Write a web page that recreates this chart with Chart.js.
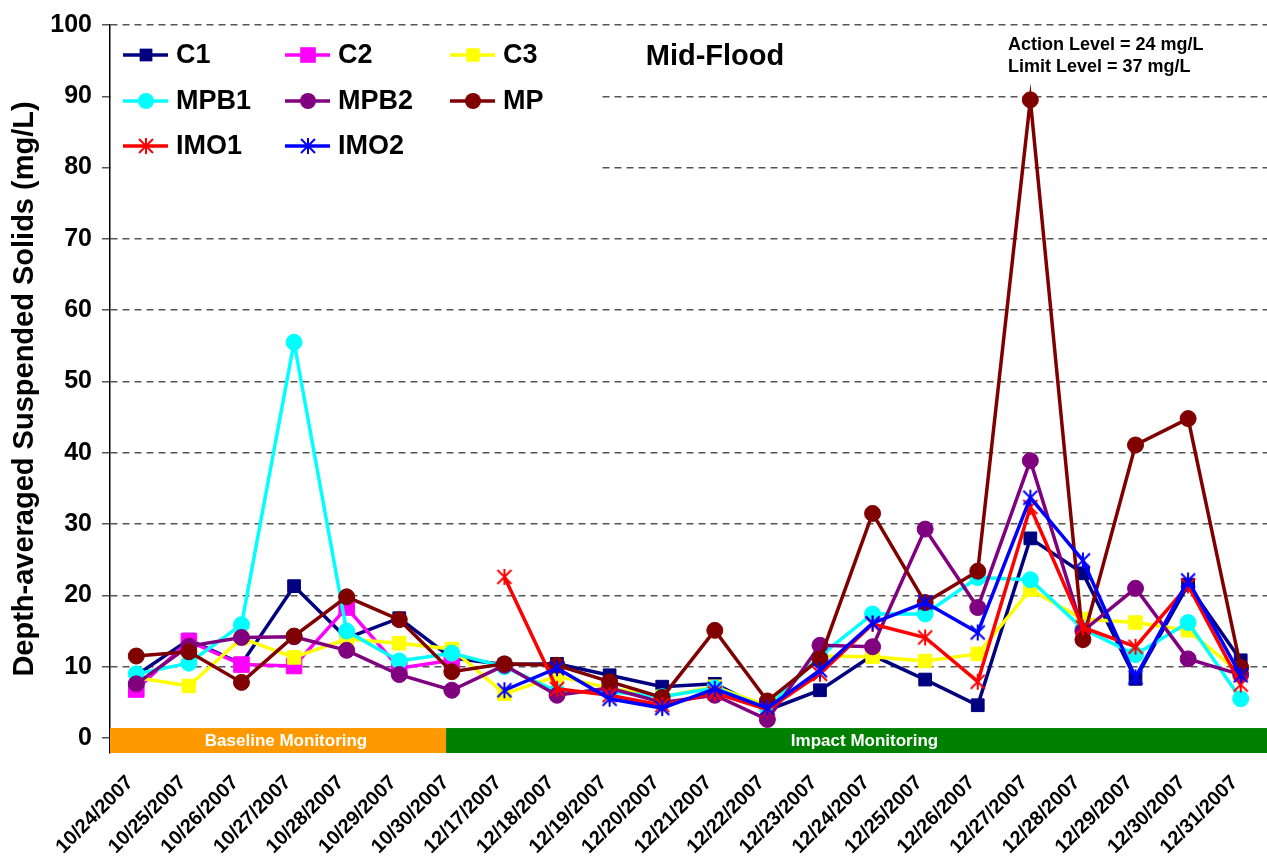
<!DOCTYPE html>
<html>
<head>
<meta charset="utf-8">
<script src="https://cdn.jsdelivr.net/npm/chart.js@4.4.1/dist/chart.umd.min.js"></script>
<style>
  html, body { margin: 0; padding: 0; background: #fff; }
  #wrap { width: 1267px; height: 859px; }
</style>
</head>
<body>
<div id="wrap"><canvas id="chart"></canvas></div>
<script>
const dates = [
  '10/24/2007', '10/25/2007', '10/26/2007', '10/27/2007', '10/28/2007', '10/29/2007', '10/30/2007',
  '12/17/2007', '12/18/2007', '12/19/2007', '12/20/2007', '12/21/2007', '12/22/2007', '12/23/2007',
  '12/24/2007', '12/25/2007', '12/26/2007', '12/27/2007', '12/28/2007', '12/29/2007', '12/30/2007',
  '12/31/2007',
];
const yTicks = [0, 10, 20, 30, 40, 50, 60, 70, 80, 90, 100];

const c1 = [8.8, 13.8, 10.4, 21.3, 14.0, 16.8, 11.2, 10.3, 10.4, 8.8, 7.2, 7.6, 3.9, 6.7, 11.6, 8.2, 4.6, 28.0, 23.1, 8.3, 21.5, 10.9];
const c2 = [6.8, 13.6, 10.3, 10.1, 18.3, 9.8, 10.9, null, null, null, null, null, null, null, null, null, null, null, null, null, null, null];
const c3 = [8.5, 7.3, 14.0, 11.3, 13.9, 13.3, 12.5, 6.2, 8.7, 7.0, 5.8, 7.2, 4.5, 11.5, 11.4, 10.8, 11.8, 20.8, 16.7, 16.2, 15.1, 9.0];
const mpb1 = [9.0, 10.5, 15.9, 55.5, 15.0, 10.8, 11.9, 10.0, 6.5, 6.5, 5.8, 7.0, 4.2, 11.5, 17.4, 17.4, 22.5, 22.2, 15.3, 11.7, 16.2, 5.5];
const mpb2 = [7.6, 12.9, 14.1, 14.2, 12.3, 8.9, 6.7, 10.2, 6.0, 7.0, 5.0, 6.0, 2.6, 13.0, 12.8, 29.3, 18.3, 38.9, 15.0, 21.0, 11.1, 8.9];
const mp = [11.5, 12.1, 7.8, 14.3, 19.8, 16.6, 9.3, 10.4, 10.2, 7.9, 5.7, 15.1, 5.2, 11.1, 31.5, 19.0, 23.4, 89.5, 13.8, 41.1, 44.8, 9.9];
const imo1 = [null, null, null, null, null, null, null, 22.6, 6.9, 6.0, 4.6, 6.3, 4.0, 9.0, 16.0, 14.1, 7.9, 32.4, 15.5, 12.8, 21.4, 7.5];
const imo2 = [null, null, null, null, null, null, null, 6.7, 9.8, 5.5, 4.2, 6.9, 4.2, 9.5, 16.1, 19.0, 14.8, 33.7, 24.9, 8.5, 22.1, 8.8];

// monitoring periods along the bottom (category index range)
const periods = [
  { label: 'Baseline Monitoring', from: -0.5, to: 5.89, color: '#FF9900' },
  { label: 'Impact Monitoring', from: 5.89, to: 21.5, color: '#008000' },
];

const FONT = "'Liberation Sans', Arial, sans-serif";
Chart.defaults.font.family = FONT;
Chart.defaults.font.weight = 'bold';
Chart.defaults.color = '#000';

// Excel-style asterisk marker: an X with a vertical bar
function asterisk(color) {
  const size = 18;
  const cv = document.createElement('canvas');
  cv.width = size;
  cv.height = size;
  const c = cv.getContext('2d');
  c.strokeStyle = color;
  c.lineWidth = 2;
  c.lineCap = 'butt';
  c.beginPath();
  c.moveTo(size / 2, 1); c.lineTo(size / 2, size - 1);
  c.moveTo(2, 2); c.lineTo(size - 2, size - 2);
  c.moveTo(size - 2, 2); c.lineTo(2, size - 2);
  c.stroke();
  return cv;
}

function series(label, data, color, style, radius) {
  return {
    label,
    data,
    borderColor: color,
    backgroundColor: color,
    pointBackgroundColor: color,
    pointBorderColor: color,
    pointStyle: style === 'star' ? asterisk(color) : style,
    markerKind: style,
    pointRadius: radius,
    pointHoverRadius: radius,
    pointBorderWidth: 1,
    borderWidth: 3.5,
    tension: 0,
    spanGaps: false,
  };
}

const datasets = [
  series('C1', c1, '#000080', 'rect', 9),
  series('C2', c2, '#FF00FF', 'rect', 11),
  series('C3', c3, '#FFFF00', 'rect', 9.5),
  series('MPB1', mpb1, '#00FFFF', 'circle', 8),
  series('MPB2', mpb2, '#800080', 'circle', 8),
  series('MP', mp, '#800000', 'circle', 8),
  series('IMO1', imo1, '#FF0000', 'star', 9),
  series('IMO2', imo2, '#0000FF', 'star', 9),
];
// later series sit on top, as in the original
datasets.forEach((d, i) => { d.order = datasets.length - i; });

function marker(ctx, d, x, y) {
  const r = d.pointRadius;
  ctx.save();
  ctx.fillStyle = d.borderColor;
  if (d.markerKind === 'rect') {
    const s = r * Math.SQRT1_2;
    ctx.fillRect(x - s, y - s, 2 * s, 2 * s);
  } else if (d.markerKind === 'circle') {
    ctx.beginPath();
    ctx.arc(x, y, r, 0, Math.PI * 2);
    ctx.fill();
  } else {
    const img = d.pointStyle;
    ctx.drawImage(img, x - img.width / 2, y - img.height / 2);
  }
  ctx.restore();
}

const decorations = {
  id: 'decorations',
  beforeDatasetsDraw(chart) {
    const { ctx, chartArea, scales } = chart;
    const top = scales.y.getPixelForValue(1.4);
    periods.forEach(p => {
      const x0 = Math.max(scales.x.getPixelForValue(p.from), chartArea.left);
      const x1 = Math.min(scales.x.getPixelForValue(p.to), chartArea.right);
      ctx.fillStyle = p.color;
      ctx.fillRect(x0, top, x1 - x0, chartArea.bottom - top);
      ctx.fillStyle = '#fff';
      ctx.font = 'bold 17px ' + FONT;
      ctx.textAlign = 'center';
      ctx.textBaseline = 'middle';
      ctx.fillText(p.label, (x0 + x1) / 2 + 8, (top + chartArea.bottom) / 2 + 1);
    });
  },
  afterDraw(chart) {
    const { ctx, chartArea } = chart;
    // legend box
    ctx.fillStyle = '#fff';
    ctx.fillRect(chartArea.left + 1, 27, 490, 150);
    const cols = [123, 285, 450];
    const rows = [55, 101, 146];
    chart.data.datasets.forEach((d, i) => {
      const x = cols[i % 3];
      const y = rows[Math.floor(i / 3)];
      ctx.strokeStyle = d.borderColor;
      ctx.lineWidth = 3.5;
      ctx.beginPath();
      ctx.moveTo(x, y);
      ctx.lineTo(x + 45, y);
      ctx.stroke();
      marker(ctx, d, x + 23, y);
      ctx.fillStyle = '#000';
      ctx.font = 'bold 27px ' + FONT;
      ctx.textAlign = 'left';
      ctx.textBaseline = 'middle';
      ctx.fillText(d.label, x + 53, y + 1);
    });
    ctx.font = 'bold 29px ' + FONT;
    ctx.textAlign = 'center';
    ctx.fillText('Mid-Flood', 715, 57);
    ctx.font = 'bold 18px ' + FONT;
    ctx.textAlign = 'left';
    ctx.fillText('Action Level = 24 mg/L', 1008, 45);
    ctx.fillText('Limit Level = 37 mg/L', 1008, 67);
  },
};

new Chart(document.getElementById('chart'), {
  type: 'line',
  data: { labels: dates, datasets },
  options: {
    responsive: true,
    maintainAspectRatio: false,
    animation: false,
    layout: { autoPadding: false, padding: { top: 22, right: 0, bottom: 0, left: 0 } },
    plugins: {
      legend: { display: false },
      tooltip: { enabled: false },
    },
    scales: {
      x: {
        offset: true,
        grid: { display: false },
        border: { display: false },
        ticks: {
          font: { size: 20, weight: 'bold' },
          color: '#000',
          minRotation: 45,
          maxRotation: 45,
          autoSkip: false,
          labelOffset: -6,
          padding: 10,
        },
        afterFit(scale) {
          scale.height = 106;
          scale.paddingLeft = 0;
          scale.paddingRight = 0;
        },
      },
      y: {
        min: -2.1,
        max: 100,
        afterBuildTicks(scale) { scale.ticks = yTicks.map(v => ({ value: v })); },
        afterFit(scale) { scale.width = 110; },
        grid: {
          color: '#555',
          lineWidth: 1.5,
          tickLength: 8,
        },
        border: { display: true, color: '#000', width: 1.5, dash: [7, 5] },
        ticks: {
          font: { size: 25, weight: 'bold' },
          color: '#000',
          padding: 10,
        },
        title: {
          display: true,
          text: 'Depth-averaged Suspended Solids (mg/L)',
          font: { size: 29, weight: 'bold' },
          color: '#000',
          padding: { top: 8, bottom: 0 },
        },
      },
    },
  },
  plugins: [decorations],
});
</script>
</body>
</html>
